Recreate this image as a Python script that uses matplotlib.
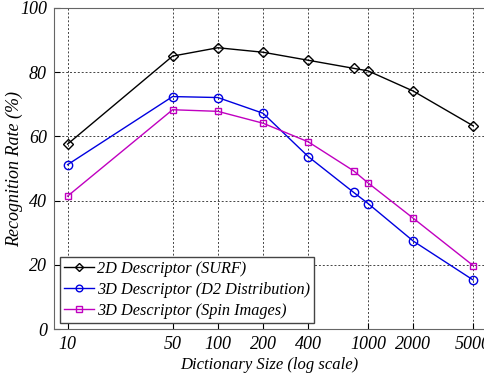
import matplotlib.pyplot as plt

dict_size = [10, 50, 100, 200, 400, 800, 1000, 2000, 5000]
surf_2d = [57.6, 85.0, 87.6, 86.2, 83.7, 81.2, 80.4, 74.1, 63.3]
d2_3d = [51.2, 72.4, 72.1, 67.2, 53.7, 42.6, 39.1, 27.4, 15.3]
spin_3d = [41.4, 68.3, 67.8, 64.1, 58.3, 49.3, 45.5, 34.5, 19.8]
xticks = [10, 50, 100, 200, 400, 1000, 2000, 5000]

plt.rcParams['font.family'] = 'Liberation Serif'
plt.rcParams['font.style'] = 'italic'

fig = plt.figure(figsize=(4.85, 3.77), dpi=100)
ax = fig.add_axes([0.111, 0.127, 0.889, 0.852])

ax.plot(dict_size, surf_2d, color='black', marker='D', mfc='none', ms=5, lw=1,
        label='2D Descriptor (SURF)')
ax.plot(dict_size, d2_3d, color='#0000e0', marker='o', mfc='none', ms=6, lw=1,
        label='3D Descriptor (D2 Distribution)')
ax.plot(dict_size, spin_3d, color='#c000c0', marker='s', mfc='none', ms=5, lw=1,
        label='3D Descriptor (Spin Images)')

ax.set_xscale('log')
ax.set_xlim(8.1, 6000)
ax.set_ylim(0, 100)
ax.set_xticks(xticks)
ax.set_xticklabels([str(t) for t in xticks])
ax.minorticks_off()
ax.set_yticks([0, 20, 40, 60, 80, 100])
ax.tick_params(direction='in', labelsize=13, length=4, pad=5)
ax.grid(True, color='#444444', linestyle=(0, (2, 2)), linewidth=0.7)
for s in ax.spines.values():
    s.set_color('#666666')

ax.set_xlabel('Dictionary Size (log scale)', fontsize=12, labelpad=3)
ax.set_ylabel('Recognition Rate (%)', fontsize=13)
ax.yaxis.set_label_coords(-0.072, 0.5)

leg = ax.legend(loc='lower left', fontsize=11.7, fancybox=False, framealpha=1,
                edgecolor='#444444', handlelength=1.8, handletextpad=0.2,
                borderaxespad=0.4, borderpad=0.25, labelspacing=0.3,
                markerscale=0.8)
leg.get_frame().set_linewidth(1.0)

fig.savefig('out.png', dpi=100)
